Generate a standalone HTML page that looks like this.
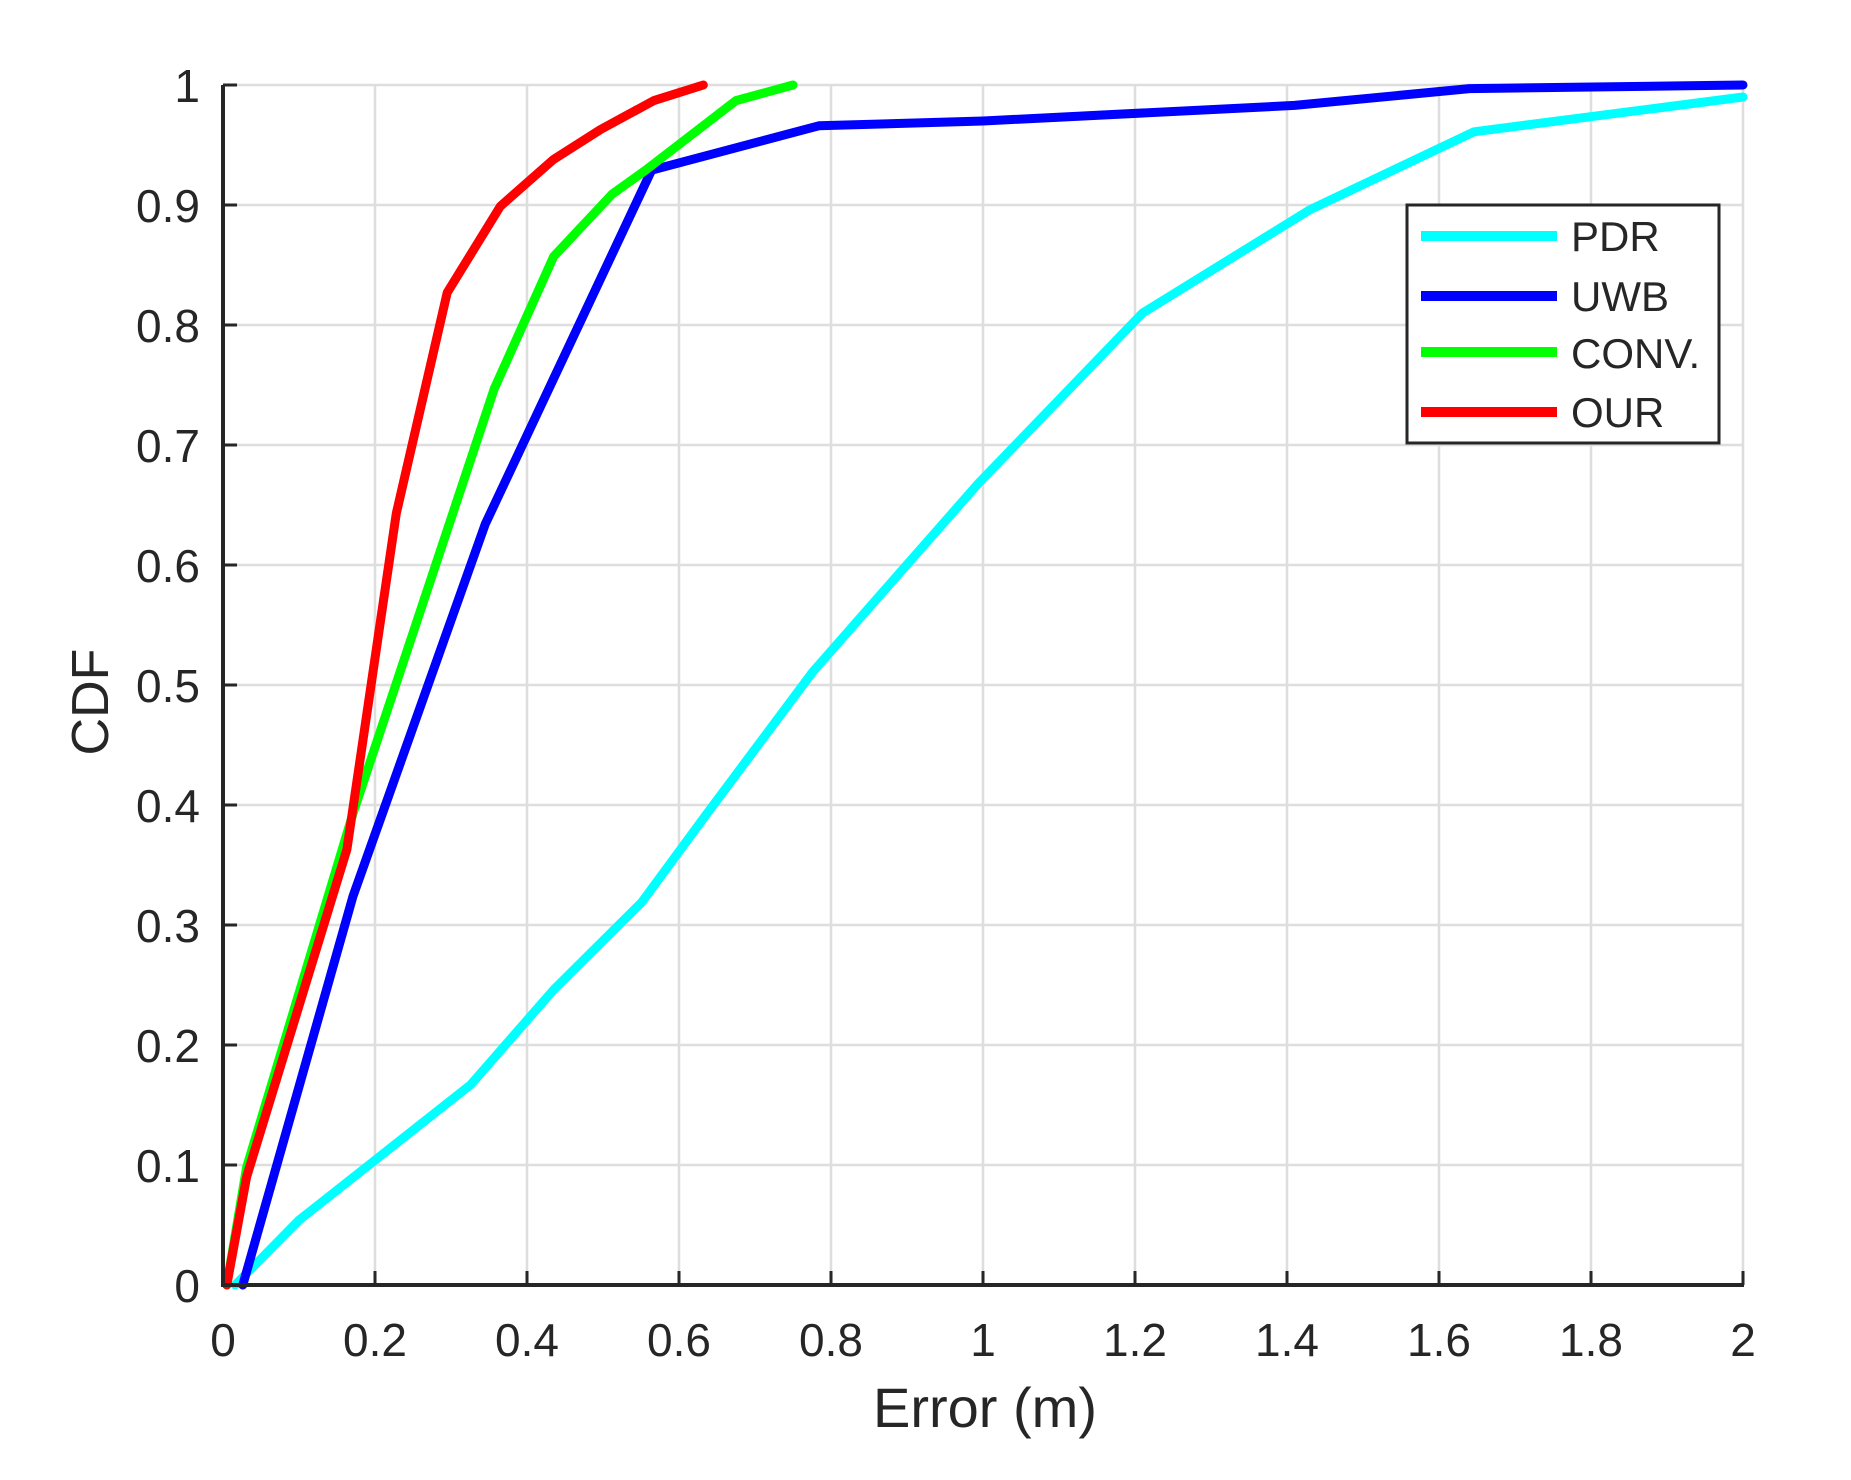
<!DOCTYPE html>
<html><head><meta charset="utf-8"><style>
html,body{margin:0;padding:0;background:#fff;}
svg{display:block;}
text{font-family:"Liberation Sans",Arial,sans-serif;fill:#262626;}
</style></head><body>
<svg id="s" width="1851" height="1480" viewBox="0 0 1851 1480" xmlns="http://www.w3.org/2000/svg">
<g id="grid" stroke="#dedede" stroke-width="2.5"></g>
<g id="ticks" stroke="#262626" stroke-width="3"></g>
<g id="labels" font-size="46"></g>
<g id="series" fill="none" stroke-width="9" stroke-linejoin="round" stroke-linecap="round"></g>
<line x1="223" y1="85" x2="223" y2="1286" stroke="#262626" stroke-width="4"/>
<line x1="221" y1="1285" x2="1744" y2="1285" stroke="#262626" stroke-width="4"/>
<rect x="1407" y="205" width="312" height="238" fill="#fff" stroke="#262626" stroke-width="3"/>
<line x1="1421" y1="236" x2="1557" y2="236" stroke="#00ffff" stroke-width="10"/>
<line x1="1421" y1="296" x2="1557" y2="296" stroke="#0000ff" stroke-width="10"/>
<line x1="1421" y1="352" x2="1557" y2="352" stroke="#00ff00" stroke-width="10"/>
<line x1="1421" y1="412" x2="1557" y2="412" stroke="#ff0000" stroke-width="10"/>
<g font-size="42" fill="#000">
<text x="1571" y="251">PDR</text>
<text x="1571" y="311">UWB</text>
<text x="1571" y="368">CONV.</text>
<text x="1571" y="427">OUR</text>
</g>
<text x="985" y="1427" font-size="56" text-anchor="middle">Error (m)</text>
<text transform="translate(108,702) rotate(-90)" font-size="52" text-anchor="middle">CDF</text>
</svg>
<script>
const X=v=>223+760*v, Y=v=>1285-1200*v, NS="http://www.w3.org/2000/svg";
function el(p,t,a,txt){const e=document.createElementNS(NS,t);for(const k in a)e.setAttribute(k,a[k]);if(txt!==undefined)e.textContent=txt;document.getElementById(p).appendChild(e);}
for(let i=0;i<=10;i++){const x=X(i*0.2);el('grid','line',{x1:x,y1:85,x2:x,y2:1285});
 el('ticks','line',{x1:x,y1:1285,x2:x,y2:1271});
 let l=(i*0.2).toFixed(1).replace(/\.0$/,'');el('labels','text',{x:x,y:1356,'text-anchor':'middle'},l);}
for(let i=0;i<=10;i++){const y=Y(i*0.1);el('grid','line',{x1:223,y1:y,x2:1743,y2:y});
 el('ticks','line',{x1:223,y1:y,x2:237,y2:y});
 let l=(i*0.1).toFixed(1).replace(/\.0$/,'');el('labels','text',{x:200,y:y+17,'text-anchor':'end'},l);}
const S={
'#00ffff':[[0.016,0],[0.1,0.054],[0.326,0.167],[0.435,0.246],[0.551,0.319],[0.637,0.393],[0.776,0.511],[0.994,0.668],[1.21,0.81],[1.43,0.896],[1.646,0.961],[2,0.99]],
'#0000ff':[[0.026,0],[0.171,0.324],[0.345,0.634],[0.564,0.929],[0.784,0.966],[1.0,0.97],[1.41,0.983],[1.64,0.997],[2,1]],
'#00ff00':[[0.005,0],[0.031,0.098],[0.171,0.393],[0.357,0.747],[0.435,0.857],[0.512,0.909],[0.556,0.929],[0.675,0.987],[0.75,1.0]],
'#ff0000':[[0.005,0],[0.031,0.09],[0.163,0.363],[0.228,0.643],[0.295,0.827],[0.365,0.899],[0.435,0.938],[0.497,0.963],[0.567,0.987],[0.632,1.0]]};
for(const c in S){el('series','polyline',{stroke:c,points:S[c].map(p=>X(p[0]).toFixed(1)+','+Y(p[1]).toFixed(1)).join(' ')});}
</script>
</body></html>
